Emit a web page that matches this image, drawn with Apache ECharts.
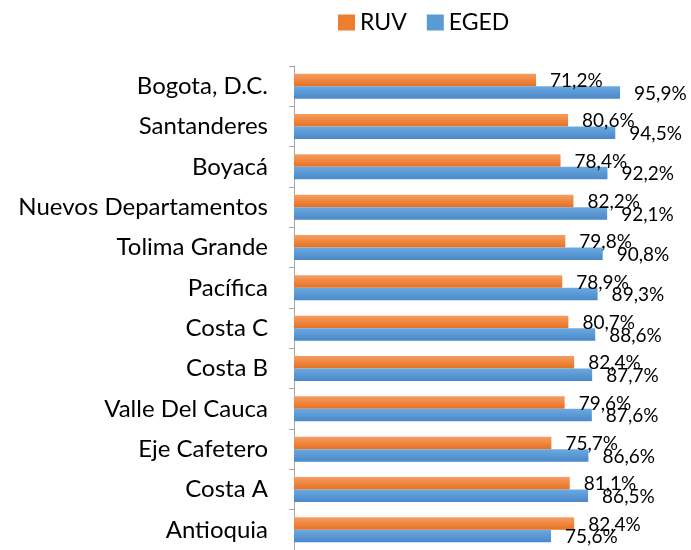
<!DOCTYPE html>
<html><head><meta charset="utf-8">
<script src="https://cdn.jsdelivr.net/npm/echarts@6/dist/echarts.min.js"></script>
<style>html,body{margin:0;padding:0;background:#fff}#c{width:691px;height:550px}</style>
</head><body><div id="c"></div>
<script>
const categories = ["Bogota, D.C.","Santanderes","Boyacá","Nuevos Departamentos","Tolima Grande","Pacífica","Costa C","Costa B","Valle Del Cauca","Eje Cafetero","Costa A","Antioquia"];
const ruv  = [71.2, 80.6, 78.4, 82.2, 79.8, 78.9, 80.7, 82.4, 79.6, 75.7, 81.1, 82.4];
const eged = [95.9, 94.5, 92.2, 92.1, 90.8, 89.3, 88.6, 87.7, 87.6, 86.6, 86.5, 75.6];
const seriesNames = ["RUV", "EGED"];

const FONT = 'Lato';
const fmt = p => p.value.toFixed(1).replace('.', ',') + '%';
const grad = (a, b) => new echarts.graphic.LinearGradient(0, 0, 0, 1, [{offset:0,color:a},{offset:1,color:b}]);
const orange = grad('#F59D62', '#E8701F');
const blue = grad('#6BA9E0', '#4A89C8');

const chart = echarts.init(document.getElementById('c'), null, {renderer:'canvas'});
chart.setOption({
  animation: false,
  textStyle: {fontFamily: FONT},
  legend: {
    left: 333, top: 6,
    itemWidth: 17, itemHeight: 16, itemGap: 20,
    icon: 'rect',
    textStyle: {fontFamily: FONT, fontSize: 23, color: '#000'},
    data: [{name: seriesNames[0], itemStyle:{color:'#ED7D31'}}, {name: seriesNames[1], itemStyle:{color:'#5B9BD5'}}]
  },
  grid: {left: 294, right: 57, top: 66, height: 487},
  xAxis: {type: 'value', min: 0, max: 100, show: false},
  yAxis: {
    type: 'category', data: categories, inverse: true,
    axisLine: {show: true, lineStyle: {color: '#A6A6A6', width: 1}},
    axisTick: {show: true, length: 5, lineStyle: {color: '#A6A6A6'}},
    axisLabel: {fontFamily: FONT, fontSize: 24, color: '#000', margin: 26}
  },
  series: [
    {name: seriesNames[0], type: 'bar', data: ruv, barGap: '0%', barCategoryGap: '38%',
     itemStyle: {color: orange},
     label: {show: true, position: 'right', distance: 14, offset:[0,1], formatter: fmt, fontFamily: FONT, fontSize: 19, color: '#000'}},
    {name: seriesNames[1], type: 'bar', data: eged, barGap: '0%', barCategoryGap: '38%',
     itemStyle: {color: blue},
     label: {show: true, position: 'right', distance: 14, offset:[0,1], formatter: fmt, fontFamily: FONT, fontSize: 19, color: '#000'}}
  ]
});
</script></body></html>
